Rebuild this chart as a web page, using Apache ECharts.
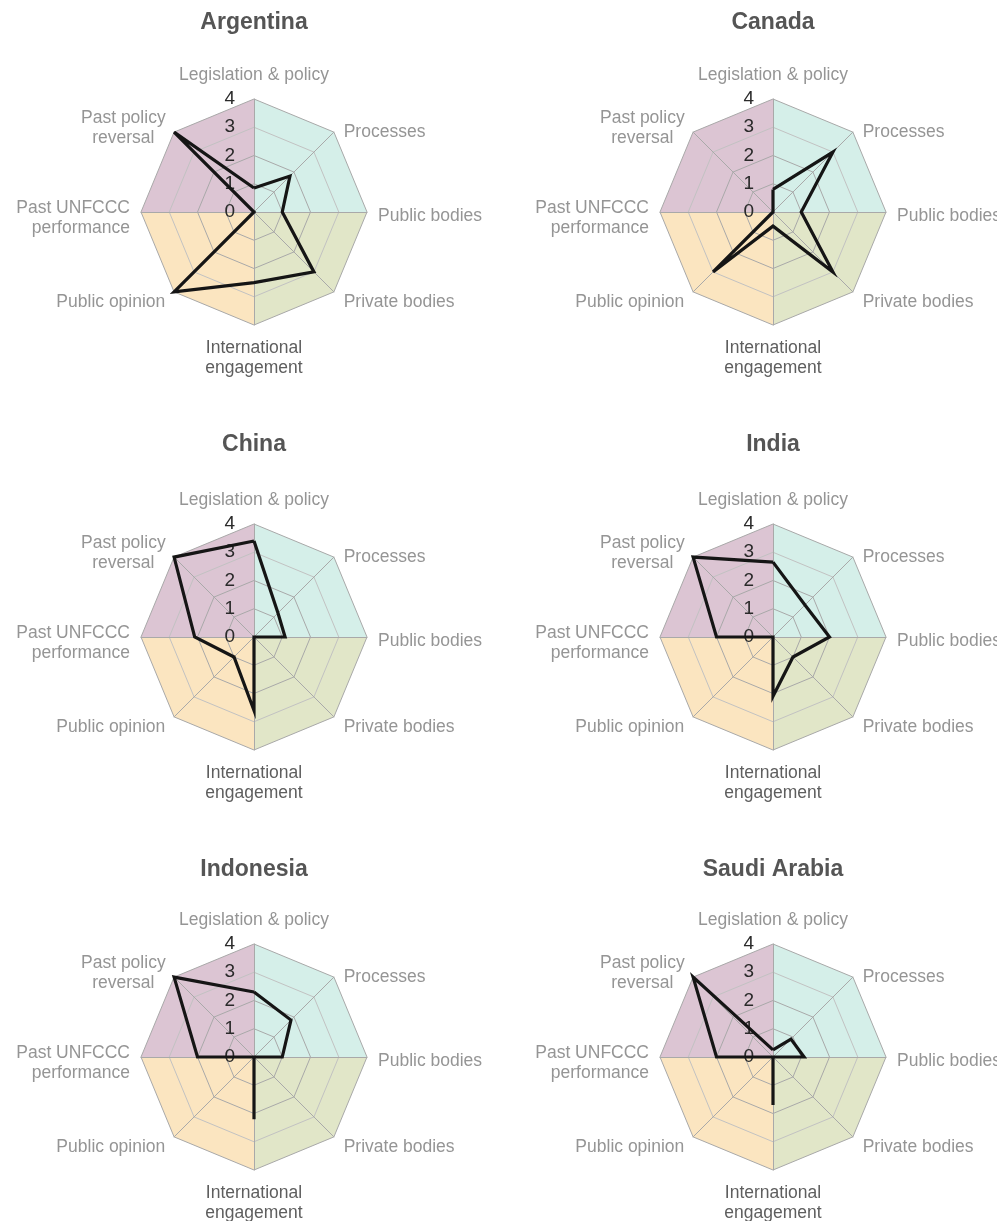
<!DOCTYPE html>
<html>
<head>
<meta charset="utf-8">
<script src="https://cdn.jsdelivr.net/npm/echarts@6/dist/echarts.min.js"></script>
<style>
html,body{margin:0;padding:0;background:#fff;}
#chart{width:997px;height:1221px;}
</style>
</head>
<body>
<div id="chart"></div>
<script>
// Axis categories, clockwise from the top
const categories = ['Legislation & policy', 'Processes', 'Public bodies', 'Private bodies',
  'International\nengagement', 'Public opinion', 'Past UNFCCC\nperformance', 'Past policy\nreversal'];
const countries = ['Argentina', 'Canada', 'China', 'India', 'Indonesia', 'Saudi Arabia'];
const tickMax = 4;

// Scores in the same clockwise order as categories
const argentina  = [0.85, 1.8, 1.0, 3.0, 2.5, 4.0, 0.0, 4.0];
const canada     = [0.8, 3.0, 1.0, 3.0, 0.5, 3.0, 0.0, 0.0];
const china      = [3.4, 1.2, 1.1, 0.0, 2.6, 1.0, 2.1, 4.0];
const india      = [2.65, 1.6, 2.0, 1.0, 2.1, 0.0, 2.0, 4.0];
const indonesia  = [2.3, 1.85, 1.0, 0.0, 2.2, 0.0, 2.0, 4.0];
const saudi      = [0.25, 0.9, 1.1, 0.0, 1.7, 0.0, 2.0, 4.0];
const seriesValues = [argentina, canada, china, india, indonesia, saudi];

// Background quadrants (which axes each coloured quarter spans)
const quadTopRight    = [4, 4, 4, 0, 0, 0, 0, 0];
const quadBottomRight = [0, 0, 4, 4, 4, 0, 0, 0];
const quadBottomLeft  = [0, 0, 0, 0, 4, 4, 4, 0];
const quadTopLeft     = [4, 0, 0, 0, 0, 0, 4, 4];
const quadColors = ['#d5efe9', '#e1e6c8', '#fbe5c0', '#dcc5d3'];
const quads = [quadTopRight, quadBottomRight, quadBottomLeft, quadTopLeft];

// Label nudges per axis (style only), clockwise from the top.
// Single-line names: padding [top, right, bottom, left]; two-line names: height of a leading spacer line.
const namePadding = [[0, 0, 5, 0], [16, 0, 0, 2], [8, 0, 0, 0], [4, 0, 0, 2],
  2, [4, 1, 0, 0], 12, 8];
const centeredLines = [false, false, false, false, false, false, false, true];

// ECharts places indicators counter-clockwise; reorder to get a clockwise layout
const order = [0, 7, 6, 5, 4, 3, 2, 1];
const reorder = arr => order.map(i => arr[i]);

const centers = [[254, 212], [773, 212], [254, 637], [773, 637], [254, 1057], [773, 1057]];
const titleTops = [11, 11, 433, 433, 858, 858];
const FONT = 'Liberation Sans, Helvetica, Arial, sans-serif';
const NAME_LH = 20;

const rich = { q: { lineHeight: NAME_LH }, c: { lineHeight: NAME_LH, width: 86, align: 'center' } };
namePadding.forEach((p, i) => {
  if (Array.isArray(p)) rich['p' + i] = { padding: p, lineHeight: NAME_LH };
  else rich['s' + i] = { lineHeight: p, fontSize: 1 };
});
const nameFormatter = name => {
  const idx = categories.indexOf(name);
  const p = namePadding[idx];
  if (Array.isArray(p)) return '{p' + idx + '|' + name + '}';
  const tag = centeredLines[idx] ? 'c' : 'q';
  return '{s' + idx + '| }\n' + name.split('\n').map(line => '{' + tag + '|' + line + '}').join('\n');
};

const radars = [], series = [], titles = [];
const cats = reorder(categories);
countries.forEach((name, k) => {
  const indicator = cats.map((c, i) => {
    const ind = { name: c, min: 0, max: tickMax };
    if (c.indexOf('International') === 0) ind.color = '#5e5e5e';
    if (i === 0) ind.axisLabel = { show: true, color: '#2a2a2a', fontSize: 19, margin: 19, fontFamily: FONT };
    return ind;
  });
  radars.push({
    center: centers[k], radius: 113, startAngle: 90, shape: 'polygon', splitNumber: 4, z: 3,
    indicator: indicator,
    nameGap: 11,
    axisName: { color: '#959595', fontSize: 17.5, fontFamily: FONT, lineHeight: NAME_LH,
      formatter: nameFormatter, rich: rich },
    splitArea: { show: false },
    splitLine: { lineStyle: { color: ['#a9a9a9', '#a9a9a9', '#a9a9a9', '#c2c2c2'], width: 1 } },
    axisLine: { lineStyle: { color: '#a9a9a9' } },
    axisTick: { show: false },
    axisLabel: { show: false }
  });
  series.push({
    type: 'radar', radarIndex: k, z: 1, silent: true, symbol: 'none',
    data: quads.map((q, j) => ({
      value: reorder(q),
      lineStyle: { width: 0 },
      areaStyle: { color: quadColors[j], opacity: 1 }
    }))
  });
  series.push({
    type: 'radar', radarIndex: k, z: 6, symbol: 'none',
    data: [{ name: name, value: reorder(seriesValues[k]),
      lineStyle: { color: '#151515', width: 3.2, join: 'miter' } }]
  });
  titles.push({
    text: name, left: centers[k][0], top: titleTops[k], textAlign: 'center', padding: 0,
    textStyle: { color: '#555', fontSize: 23, fontWeight: 'bold', fontFamily: FONT }
  });
});

const chart = echarts.init(document.getElementById('chart'), null, { renderer: 'canvas' });
chart.setOption({
  backgroundColor: '#fff',
  animation: false,
  title: titles,
  radar: radars,
  series: series
});
</script>
</body>
</html>
